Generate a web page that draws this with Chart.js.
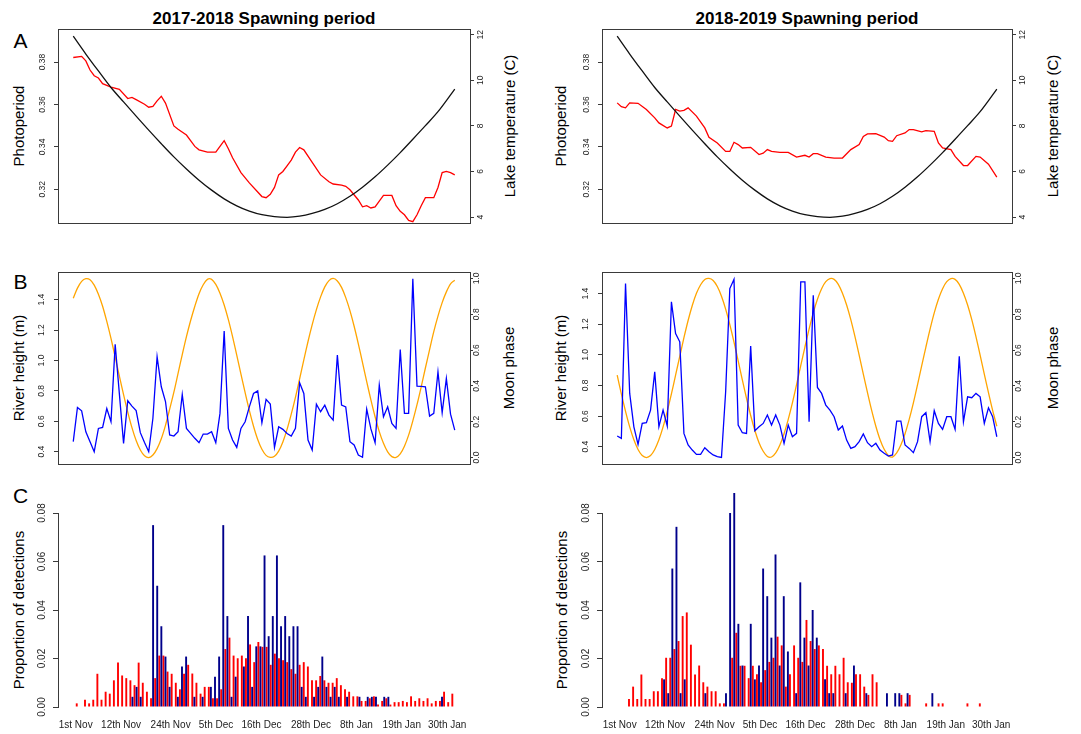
<!DOCTYPE html>
<html><head><meta charset="utf-8">
<script src="https://cdn.jsdelivr.net/npm/chart.js@4.4.1/dist/chart.umd.min.js"></script>
<style>
html,body{margin:0;padding:0;background:#fff;width:1081px;height:734px;overflow:hidden;position:relative;font-family:"Liberation Sans",Arial,Helvetica,sans-serif;}
.t{position:absolute;white-space:nowrap;color:#000;transform:translate(-50%,-50%);line-height:1.15;}
.r{transform:translate(-50%,-50%) rotate(-90deg);font-size:15px;}
</style></head><body>
<div class="t" style="left:264px;top:18.5px;font-weight:bold;font-size:17px">2017-2018 Spawning period</div>
<div class="t" style="left:807px;top:18.5px;font-weight:bold;font-size:17px">2018-2019 Spawning period</div>
<div class="t" style="left:20.5px;top:41px;font-size:21px">A</div>
<div class="t" style="left:20.5px;top:282px;font-size:21px">B</div>
<div class="t" style="left:20.5px;top:496px;font-size:21px">C</div>
<div class="t r" style="left:18.5px;top:126px">Photoperiod</div>
<div class="t r" style="left:510px;top:126px">Lake temperature (C)</div>
<div class="t r" style="left:561px;top:126px">Photoperiod</div>
<div class="t r" style="left:1053px;top:126px">Lake temperature (C)</div>
<div class="t r" style="left:18.5px;top:368px">River height (m)</div>
<div class="t r" style="left:509px;top:368px">Moon phase</div>
<div class="t r" style="left:561px;top:368px">River height (m)</div>
<div class="t r" style="left:1053px;top:368px">Moon phase</div>
<div class="t r" style="left:18.5px;top:610px">Proportion of detections</div>
<div class="t r" style="left:562px;top:610px">Proportion of detections</div>
<script>
// ---------------- DATA ----------------
const dateTickDays = [0, 11, 23, 34, 45, 57, 68, 79, 90];
const dateTickLabels = ['1st Nov','12th Nov','24th Nov','5th Dec','16th Dec','28th Dec','8th Jan','19th Jan','30th Jan'];

const photoTicks = [0.32, 0.34, 0.36, 0.38];
const tempTicks = [4, 6, 8, 10, 12];
const riverTicks = [0.4, 0.6, 0.8, 1.0, 1.2, 1.4];
const moonTicks = [0, 0.2, 0.4, 0.6, 0.8, 1.0];
const propTicks = [0, 0.02, 0.04, 0.06, 0.08];

const photoDays = [0,3,6,9,12,15,18,21,24,27,30,33,36,39,42,45,48,51,54,57,60,63,66,69,72,75,78,81,84,87,90,91];
const photoperiod = [.3922,.3838,.3758,.3680,.3612,.3545,.3479,.3415,.3353,.3296,.3243,.3196,.3155,.3122,.3097,.3080,.3071,.3068,.3073,.3086,.3105,.3132,.3167,.3210,.3259,.3314,.3373,.3436,.3500,.3566,.3645,.3672];

const temp17Days = [0,2,3,4,5,6,7,9,11,13,14,15,17,18,19,20,21,22,24,25,27,29,30,32,34,35,36,37,38,40,42,44,45,46,47,48,49,50,51,52,53,54,55,57,59,61,62,64,65,66,68,69,70,71,72,73,74,76,77,78,79,80,81,82,83,84,86,87,88,89,90,91];
const temp17 = [11.0,11.05,10.85,10.45,10.2,10.1,9.85,9.7,9.6,9.2,9.25,9.15,8.95,8.82,8.85,9.1,9.3,9.0,8.0,7.85,7.6,7.1,6.95,6.85,6.85,7.1,7.35,7.0,6.6,5.95,5.5,5.1,4.9,4.85,5.0,5.3,5.85,6.0,6.25,6.5,6.85,7.05,6.95,6.4,5.85,5.55,5.45,5.4,5.35,5.2,4.75,4.45,4.5,4.4,4.45,4.7,4.95,4.95,4.5,4.25,4.1,3.85,3.8,4.1,4.5,4.85,4.85,5.3,5.95,6.0,5.95,5.85];

const temp18Days = [0,1,2,3,5,7,9,10,12,13,14,15,16,17,19,21,22,24,26,27,28,29,30,32,34,35,36,37,39,41,43,45,46,47,48,50,52,54,56,58,59,60,62,64,65,66,67,69,70,71,73,74,76,77,78,80,81,83,84,86,87,89,91];
const temp18 = [9.01,8.84,8.79,9.01,8.99,8.72,8.35,8.13,7.91,7.99,8.72,8.65,8.68,8.79,8.43,7.91,7.5,7.25,6.88,6.88,7.28,7.18,7.03,7.06,6.74,6.8,6.96,6.88,6.84,6.84,6.63,6.71,6.63,6.78,6.78,6.63,6.59,6.59,6.96,7.18,7.54,7.65,7.66,7.51,7.35,7.32,7.57,7.69,7.84,7.84,7.74,7.79,7.76,7.25,7.03,6.96,6.66,6.26,6.26,6.66,6.63,6.32,5.75];

const river17 = [.466,.691,.669,.531,.466,.40,.553,.56,.684,.597,
 1.107,.78,.455,.735,.70,.67,.525,.46,.40,.62,
 1.024,.827,.73,.51,.503,.531,.776,.553,.52,.488,
 .459,.516,.516,.531,.459,.652,1.194,.553,.477,.428,
 .553,.597,.695,.783,.80,.59,.744,.713,.428,.564,
 .547,.52,.503,.553,.853,.783,.477,.411,.713,.663,
 .706,.641,.608,1.035,.706,.695,.466,.444,.378,.363,
 .68,.55,.459,.838,.63,.695,.586,.553,1.072,.652,
 .652,1.538,.831,.83,.827,.634,.652,.925,.656,.881,
 .647,.542];
const river18 = [.47,.454,1.465,.748,.53,.415,.552,.557,.639,.889,
 .53,.639,.535,1.346,1.139,1.085,.487,.411,.378,.35,
 .35,.393,.367,.346,.335,.33,.759,1.433,1.493,.541,
 .491,.487,1.057,.504,.53,.552,.607,.541,.607,.541,
 .422,.541,.465,.487,1.476,1.476,.563,1.389,.787,.748,
 .672,.639,.596,.509,.535,.443,.389,.40,.433,.483,
 .426,.40,.422,.378,.357,.339,.346,.567,.567,.411,
 .389,.361,.433,.596,.622,.433,.635,.552,.513,.596,
 .596,.513,.991,.563,.726,.72,.748,.726,.552,.654,
 .596,.465];

const moon17 = [.89,.946,.984,.999,.993,.963,.912,.845,.76,.665,
 .561,.455,.351,.254,.167,.095,.042,.01,0,.014,
 .05,.105,.18,.27,.365,.47,.575,.675,.765,.845,
 .915,.965,.995,.995,.967,.918,.852,.77,.675,.572,
 .466,.362,.263,.175,.101,.046,.012,.001,.007,.036,
 .087,.157,.242,.336,.44,.545,.648,.742,.826,.897,
 .953,.988,1,.986,.95,.893,.82,.733,.635,.53,
 .424,.322,.228,.145,.08,.032,.005,.001,.02,.063,
 .125,.205,.295,.395,.5,.603,.703,.79,.865,.925,
 .97,.99];
const moon18 = [.46,.355,.258,.171,.099,.045,.011,0,.011,.045,
 .099,.171,.258,.355,.46,.565,.669,.765,.849,.917,
 .965,.994,1,.989,.955,.901,.829,.742,.645,.54,
 .434,.331,.235,.151,.083,.035,.006,.003,.026,.07,
 .133,.213,.305,.407,.513,.617,.717,.808,.884,.943,
 .982,.999,.995,.967,.918,.852,.77,.675,.572,.466,
 .362,.263,.175,.101,.046,.012,.003,.026,.07,.133,
 .213,.305,.407,.513,.617,.717,.808,.884,.943,.982,
 .999,.995,.967,.918,.852,.77,.675,.572,.466,.362,
 .263,.175];

const blue17 = [0,0,0,0,0,0,0,0,0,0,
 0,0,0,0,.0042,.0083,.0042,0,0,.075,
 .05,.0333,.0208,.0083,0,.0042,.0167,.0208,0,.0042,
 0,.0042,0,.0083,.0125,.0208,.075,.0375,.0042,.0125,
 0,.0167,.0375,.0083,.025,.025,.0625,.0292,.0375,.0625,
 .0333,.0375,.0292,.0333,.0333,.0083,.0042,0,.0042,.0083,
 .0208,.0083,.0042,.0083,.0042,0,.0042,0,0,.0042,
 0,.0042,.0042,.0042,0,.0042,.0042,0,0,0,
 0,0,0,0,0,0,0,0,0,.0042,
 0,0];
const red17 = [.0015,0,.003,.0015,.003,.0137,.003,.0063,.0055,.011,
 .0183,.013,.0119,.011,.009,.0183,.010,.0063,.0036,.0119,
 .0212,.0212,.0146,.0137,.010,.0073,.0137,.0174,.0138,.010,
 .0055,.0083,.0083,.0036,.0036,.0073,.0239,.0286,.0212,.0201,
 .0212,.0201,.0258,.0185,.0268,.0248,.0248,.0174,.022,.0201,
 .0193,.0185,.0156,.0137,.0174,.0185,.0167,.011,.011,.0128,
 .011,.010,.010,.0119,.009,.0073,.0063,.0044,.0044,.0025,
 .0025,.0036,.0044,.001,.0025,.0036,.001,.002,.002,.0025,
 .002,.0044,.0025,.0036,.0025,.0036,.0015,.0025,.0025,.0063,
 .002,.0055];
const blue18 = [0,0,0,0,0,0,0,0,0,0,
 0,.0114,.0057,.0571,.0743,.0057,.0114,0,0,0,
 0,.0057,0,0,0,0,.0057,.08,.0914,.0343,
 .0171,0,.0343,.0114,.0171,.0571,.0457,.0286,.0629,.0171,
 .0457,.0229,0,.0057,.0514,.0286,.0171,.04,.0286,0,
 .0114,.0057,.0057,0,0,.0057,0,.0171,0,0,
 .0057,0,0,0,0,.0057,0,.0057,.0057,0,
 .0057,0,0,0,0,0,.0057,0,0,0,
 0,0,0,0,0,0,0,0,0,0,
 0,0];
const red18 = [0,0,.0033,.0084,.0033,.0134,.0033,.0033,.0065,.0065,
 .0119,.0203,.0203,.0239,.0272,.0375,.039,.0257,.0134,.0171,
 .0102,.0084,.0065,.0065,.0015,.0015,0,.0203,.0306,.017,
 .017,.0119,.017,.0135,.0102,.0152,.0186,.0203,.029,.0254,
 .0084,.0135,.0254,.0203,.0186,.0359,.0272,.0239,.0254,.0239,
 .017,.0135,.017,.0135,.0203,.0102,.010,.0135,.0135,.0084,
 .005,.0135,.0102,0,0,0,0,0,.005,.0015,
 .005,0,0,0,.0015,0,0,.0015,.0015,0,
 0,0,0,0,.0015,0,0,.0015,0,0,
 0,0];

// ---------------- HELPERS ----------------
const FONT = '"Liberation Sans", Arial, Helvetica, sans-serif';
const AXC = '#3a3a3a';
const pts = (days, vals) => vals.map((v, i) => ({ x: days ? days[i] : i, y: v }));

function makeCanvas(box, lw, rw, padT, padB) {
  const c = document.createElement('canvas');
  const w = box.r - box.l + lw + rw, h = box.b - box.t + padT + padB;
  c.width = w; c.height = h;
  c.style.cssText = 'position:absolute;left:' + (box.l - lw) + 'px;top:' + (box.t - padT) + 'px;width:' + w + 'px;height:' + h + 'px;';
  document.body.appendChild(c);
  return c;
}

function yAxis(pos, min, max, tickArr, dec, fs, tl, pad, width, border) {
  return {
    type: 'linear', position: pos, min: min, max: max,
    afterBuildTicks: s => { s.ticks = tickArr.map(v => ({ value: v })); },
    afterFit: s => { s.width = width; },
    grid: { display: true, drawOnChartArea: false, drawTicks: true, tickLength: tl, color: AXC, tickColor: AXC, lineWidth: 1 },
    border: { display: border, color: AXC, width: 1 },
    ticks: { autoSkip: false, minRotation: 90, maxRotation: 90, crossAlign: 'center', padding: pad, color: '#222',
      font: { family: FONT, size: fs }, callback: v => Number(v).toFixed(dec) }
  };
}

const framePlugin = {
  id: 'frame',
  afterDatasetsDraw(chart) {
    const a = chart.chartArea, ctx = chart.ctx;
    ctx.save(); ctx.strokeStyle = AXC; ctx.lineWidth = 1;
    const l = Math.round(a.left) + 0.5, t = Math.round(a.top) + 0.5;
    ctx.strokeRect(l, t, Math.round(a.right) - Math.round(a.left), Math.round(a.bottom) - Math.round(a.top));
    ctx.restore();
  }
};

const LINE_XMIN = -3.64, LINE_XMAX = 94.64;
const BAR_XMIN = -4.29, BAR_XMAX = 95.29;

function lineChart(box, yL, yR, datasets) {
  const cv = makeCanvas(box, 45, 45, 20, 20);
  return new Chart(cv, {
    type: 'line',
    data: { datasets: datasets },
    options: {
      responsive: false, animation: false, events: [],
      layout: { padding: { top: 20, bottom: 20, left: 0, right: 0 } },
      plugins: { legend: { display: false }, tooltip: { enabled: false } },
      elements: { point: { radius: 0 } },
      scales: { x: { type: 'linear', min: LINE_XMIN, max: LINE_XMAX, display: false }, yL: yL, yR: yR }
    },
    plugins: [framePlugin]
  });
}

function barChart(box, blue, red) {
  const cv = makeCanvas(box, 45, 10, 20, 35);
  return new Chart(cv, {
    type: 'bar',
    data: { datasets: [
      { data: pts(null, blue), backgroundColor: '#00008B', borderWidth: 0, barPercentage: 0.92, categoryPercentage: 1.0, clip: false },
      { data: pts(null, red), backgroundColor: '#FF0000', borderWidth: 0, barPercentage: 0.92, categoryPercentage: 1.0, clip: false }
    ] },
    options: {
      responsive: false, animation: false, events: [],
      layout: { padding: { top: 20, bottom: 0, left: 0, right: 10 } },
      plugins: { legend: { display: false }, tooltip: { enabled: false } },
      scales: {
        x: { type: 'linear', offset: false, min: BAR_XMIN, max: BAR_XMAX,
          afterBuildTicks: s => { s.ticks = dateTickDays.map(v => ({ value: v })); },
          afterFit: s => { s.height = 35; },
          grid: { display: false, drawTicks: false }, border: { display: false },
          ticks: { autoSkip: false, maxRotation: 0, minRotation: 0, padding: 12, color: '#222',
            font: { family: FONT, size: 10 }, callback: (v, i) => dateTickLabels[i] } },
        y: yAxis('left', 0, 0.08, propTicks, 2, 10, 5, 1, 45, true)
      }
    }
  });
}

// ---------------- PANELS ----------------
const lw = 1.3;
// A
lineChart({ l: 58, r: 470, t: 29, b: 223 },
  yAxis('left', 0.3041, 0.3956, photoTicks, 2, 8.5, 4, 3.5, 45, false),
  yAxis('right', 3.74, 12.25, tempTicks, 0, 8.5, 4, 2, 45, false),
  [ { data: pts(photoDays, photoperiod), yAxisID: 'yL', borderColor: '#111', borderWidth: lw, cubicInterpolationMode: 'monotone' },
    { data: pts(temp17Days, temp17), yAxisID: 'yR', borderColor: '#FF0000', borderWidth: lw, tension: 0 } ]);
lineChart({ l: 602, r: 1012, t: 29, b: 223 },
  yAxis('left', 0.3041, 0.3956, photoTicks, 2, 8.5, 4, 3.5, 45, false),
  yAxis('right', 3.74, 12.25, tempTicks, 0, 8.5, 4, 2, 45, false),
  [ { data: pts(photoDays, photoperiod), yAxisID: 'yL', borderColor: '#111', borderWidth: lw, cubicInterpolationMode: 'monotone' },
    { data: pts(temp18Days, temp18), yAxisID: 'yR', borderColor: '#FF0000', borderWidth: lw, tension: 0 } ]);
// B
lineChart({ l: 58, r: 470, t: 272, b: 464 },
  yAxis('left', 0.319, 1.582, riverTicks, 1, 8.5, 4, 6, 45, false),
  yAxis('right', -0.036, 1.036, moonTicks, 1, 8.5, 3, -2, 45, false),
  [ { data: pts(null, river17), yAxisID: 'yL', borderColor: '#0000FF', borderWidth: lw, tension: 0 },
    { data: pts(null, moon17), yAxisID: 'yR', borderColor: '#FFA500', borderWidth: lw, tension: 0.3 } ]);
lineChart({ l: 602, r: 1012, t: 272, b: 464 },
  yAxis('left', 0.287, 1.541, riverTicks, 1, 8.5, 4, 6, 45, false),
  yAxis('right', -0.036, 1.036, moonTicks, 1, 8.5, 3, -2, 45, false),
  [ { data: pts(null, river18), yAxisID: 'yL', borderColor: '#0000FF', borderWidth: lw, tension: 0 },
    { data: pts(null, moon18), yAxisID: 'yR', borderColor: '#FFA500', borderWidth: lw, tension: 0.3 } ]);
// C
barChart({ l: 58, r: 469, t: 513, b: 707 }, blue17, red17);
barChart({ l: 602, r: 1013, t: 513, b: 707 }, blue18, red18);
</script>
</body></html>
